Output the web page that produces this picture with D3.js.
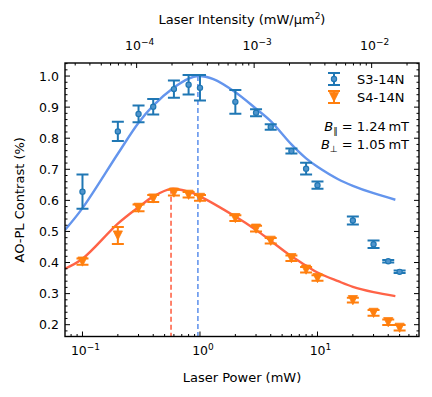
<!DOCTYPE html>
<html>
<head>
<meta charset="utf-8">
<script src="https://cdn.jsdelivr.net/npm/d3@7.9.0/dist/d3.min.js"></script>
<style>
  body { margin: 0; background: #fff; }
  svg text { font-family: "DejaVu Sans", sans-serif; fill: #000; }
</style>
</head>
<body>
<svg id="chart" width="432" height="397"></svg>
<script>
// measured data (laser power in mW)
const powerMw = [0.1, 0.2, 0.3, 0.4, 0.6, 0.8, 1, 2, 3, 4, 6, 8, 10, 20, 30, 40, 50];
const s3Contrast = [0.628, 0.822, 0.878, 0.901, 0.958, 0.972, 0.962, 0.917, 0.882, 0.836, 0.759, 0.702, 0.649, 0.535, 0.459, 0.404, 0.370];
const s3Err = [0.055, 0.031, 0.027, 0.025, 0.028, 0.031, 0.041, 0.038, 0.011, 0.009, 0.008, 0.019, 0.012, 0.013, 0.012, 0.004, 0.004];
const s4Contrast = [0.403, 0.487, 0.576, 0.606, 0.625, 0.618, 0.608, 0.543, 0.509, 0.470, 0.414, 0.377, 0.350, 0.279, 0.238, 0.208, 0.190];
const s4Err = [0.010, 0.027, 0.011, 0.011, 0.009, 0.009, 0.009, 0.009, 0.009, 0.009, 0.009, 0.009, 0.009, 0.008, 0.009, 0.009, 0.009];

// fit curves
const s3FitPower = [0.071, 0.1, 0.2, 0.3, 0.4, 0.6, 0.8, 0.96, 1.3, 2, 3, 4, 6, 8, 10, 15, 20, 30, 46];
const s3FitValue = [0.505, 0.575, 0.75, 0.85, 0.905, 0.963, 0.992, 1.0, 0.99, 0.948, 0.895, 0.855, 0.78, 0.735, 0.708, 0.668, 0.647, 0.623, 0.602];
const s4FitPower = [0.071, 0.1, 0.2, 0.3, 0.4, 0.567, 0.8, 1, 2, 3, 4, 6, 8, 10, 15, 20, 30, 46];
const s4FitValue = [0.38, 0.412, 0.525, 0.578, 0.612, 0.637, 0.628, 0.613, 0.548, 0.505, 0.47, 0.42, 0.39, 0.368, 0.34, 0.322, 0.305, 0.292];

// peak positions (dashed lines)
const peakPower = [0.96, 0.567];
const peakValue = [1.0, 0.637];

const seriesNames = ['S3-14N', 'S4-14N'];
const fieldLabels = [['\u2225', '1.24'], ['\u22A5', '1.05']];
const yTicks = [0.2, 0.3, 0.4, 0.5, 0.6, 0.7, 0.8, 0.9, 1.0];
const xTickExp = [-1, 0, 1];
const topTickExp = [-4, -3, -2];
const intensityPerMw = 3.46e-4; // mW -> mW/um^2

const dataBlue = '#1f77b4', dataOrange = '#ff7f0e';
const fitBlue = '#6495ed', fitRed = '#ff6347';

const svg = d3.select('#chart');
const L = 65, R = 419, T = 63, B = 336.5;

const x = d3.scaleLog().domain([0.0710, 73.1]).range([L, R]);
const xTop = d3.scaleLog().domain([0.0710 * intensityPerMw, 73.1 * intensityPerMw]).range([L, R]);
const y = d3.scaleLinear().domain([0.162, 1.042]).range([B, T]);

svg.append('defs').append('clipPath').attr('id', 'clip')
  .append('rect').attr('x', L).attr('y', T).attr('width', R - L).attr('height', B - T);

const plot = svg.append('g').attr('clip-path', 'url(#clip)');

// fit curves
const line = d3.line().x(d => x(d[0])).y(d => y(d[1])).curve(d3.curveCatmullRom.alpha(0.5));
plot.append('path').datum(d3.zip(s3FitPower, s3FitValue))
  .attr('d', line).attr('fill', 'none').attr('stroke', fitBlue).attr('stroke-width', 2.4);
plot.append('path').datum(d3.zip(s4FitPower, s4FitValue))
  .attr('d', line).attr('fill', 'none').attr('stroke', fitRed).attr('stroke-width', 2.4);

// dashed peak markers
[fitBlue, fitRed].forEach((c, i) => {
  plot.append('line')
    .attr('x1', x(peakPower[i])).attr('x2', x(peakPower[i]))
    .attr('y1', y(peakValue[i])).attr('y2', B)
    .attr('stroke', c).attr('stroke-width', 1.6).attr('stroke-dasharray', '5,3');
});

// error bars + markers
function errorBars(g, vals, errs, color, cap) {
  powerMw.forEach((p, i) => {
    const cx = x(p);
    const y1 = y(vals[i] + errs[i]), y2 = y(vals[i] - errs[i]);
    g.append('line').attr('x1', cx).attr('x2', cx).attr('y1', y1).attr('y2', y2)
      .attr('stroke', color).attr('stroke-width', 2);
    [y1, y2].forEach(yy => g.append('line')
      .attr('x1', cx - cap).attr('x2', cx + cap).attr('y1', yy).attr('y2', yy)
      .attr('stroke', color).attr('stroke-width', 2));
  });
}

const gS4 = plot.append('g');
errorBars(gS4, s4Contrast, s4Err, dataOrange, 6);
const tri = (cx, cy, s) => `M${cx - s},${cy - s}L${cx + s},${cy - s}L${cx},${cy + s}Z`;
powerMw.forEach((p, i) => {
  gS4.append('path').attr('d', tri(x(p), y(s4Contrast[i]), 4.6))
    .attr('fill', dataOrange).attr('stroke', dataOrange).attr('stroke-width', 0.8);
});

const gS3 = plot.append('g');
errorBars(gS3, s3Contrast, s3Err, dataBlue, 6);
powerMw.forEach((p, i) => {
  gS3.append('circle').attr('cx', x(p)).attr('cy', y(s3Contrast[i])).attr('r', 2.6)
    .attr('fill', '#4f94cc').attr('stroke', dataBlue).attr('stroke-width', 1.2);
});

// ticks
const ax = svg.append('g').attr('stroke', '#000');
function minorLogs(scale) {
  const [a, b] = scale.domain();
  const out = [];
  for (let e = Math.floor(Math.log10(a)); e <= Math.ceil(Math.log10(b)); e++) {
    for (let m = 1; m <= 9; m++) {
      const v = m * Math.pow(10, e);
      if (v >= a && v <= b) out.push({ v, major: m === 1 });
    }
  }
  return out;
}
minorLogs(x).forEach(t => {
  const px = x(t.v), len = t.major ? 5 : 2.5;
  ax.append('line').attr('x1', px).attr('x2', px).attr('y1', B).attr('y2', B - len).attr('stroke-width', 1);
});
minorLogs(xTop).forEach(t => {
  const px = xTop(t.v), len = t.major ? 5 : 2.5;
  ax.append('line').attr('x1', px).attr('x2', px).attr('y1', T).attr('y2', T + len).attr('stroke-width', 1);
});
d3.range(0.18, 1.041, 0.02).forEach(v => {
  const major = Math.abs(Math.round(v * 10) - v * 10) < 1e-6;
  const py = y(v), len = major ? 5 : 2.5;
  ax.append('line').attr('x1', L).attr('x2', L + len).attr('y1', py).attr('y2', py).attr('stroke-width', 1);
  ax.append('line').attr('x1', R).attr('x2', R - len).attr('y1', py).attr('y2', py).attr('stroke-width', 1);
});

svg.append('rect').attr('x', L).attr('y', T).attr('width', R - L).attr('height', B - T)
  .attr('fill', 'none').attr('stroke', '#000').attr('stroke-width', 1.4);

// tick labels
yTicks.forEach(v => {
  svg.append('text').attr('x', L - 6).attr('y', y(v) + 4.5).attr('text-anchor', 'end')
    .attr('font-size', 12.5).text(v.toFixed(1));
});
function powLabel(px, py, exp) {
  const t = svg.append('text').attr('x', px).attr('y', py).attr('text-anchor', 'middle').attr('font-size', 12.5);
  t.append('tspan').text('10');
  t.append('tspan').attr('dy', -5).attr('font-size', 9).text(exp < 0 ? '\u2212' + (-exp) : String(exp));
}
xTickExp.forEach(e => powLabel(x(Math.pow(10, e)) + 3, 355, e));
topTickExp.forEach(e => powLabel(xTop(Math.pow(10, e)) + 3, 50, e));

// axis titles
svg.append('text').attr('x', (L + R) / 2).attr('y', 382).attr('text-anchor', 'middle')
  .attr('font-size', 13).text('Laser Power (mW)');
const topTitle = svg.append('text').attr('x', (L + R) / 2).attr('y', 24).attr('text-anchor', 'middle').attr('font-size', 13);
topTitle.append('tspan').text('Laser Intensity (mW/\u03bcm');
topTitle.append('tspan').attr('dy', -5).attr('font-size', 9).text('2');
topTitle.append('tspan').attr('dy', 5).text(')');
svg.append('text').attr('transform', `translate(24,${(T + B) / 2}) rotate(-90)`)
  .attr('text-anchor', 'middle').attr('font-size', 13).text('AO-PL Contrast (%)');

// legend
const lg = svg.append('g');
const lx = 334, ly = [79, 97];
lg.append('line').attr('x1', lx).attr('x2', lx).attr('y1', ly[0] - 6).attr('y2', ly[0] + 6).attr('stroke', dataBlue).attr('stroke-width', 2);
[ly[0] - 6, ly[0] + 6].forEach(v => lg.append('line').attr('x1', lx - 6).attr('x2', lx + 6).attr('y1', v).attr('y2', v).attr('stroke', dataBlue).attr('stroke-width', 2));
lg.append('circle').attr('cx', lx).attr('cy', ly[0]).attr('r', 2.6).attr('fill', '#4f94cc').attr('stroke', dataBlue).attr('stroke-width', 1.2);
lg.append('line').attr('x1', lx).attr('x2', lx).attr('y1', ly[1] - 6).attr('y2', ly[1] + 6).attr('stroke', dataOrange).attr('stroke-width', 2);
[ly[1] - 6, ly[1] + 6].forEach(v => lg.append('line').attr('x1', lx - 6).attr('x2', lx + 6).attr('y1', v).attr('y2', v).attr('stroke', dataOrange).attr('stroke-width', 2));
lg.append('path').attr('d', tri(lx, ly[1], 4.6)).attr('fill', dataOrange).attr('stroke', dataOrange).attr('stroke-width', 0.8);
seriesNames.forEach((n, i) => {
  lg.append('text').attr('x', 357).attr('y', ly[i] + 5).attr('font-size', 13).text(n);
});

// field annotations
fieldLabels.forEach((f, i) => {
  const t = svg.append('text').attr('x', 409).attr('y', 131 + i * 18).attr('text-anchor', 'end').attr('font-size', 13);
  t.append('tspan').attr('font-style', 'italic').text('B');
  t.append('tspan').attr('dy', 3).attr('font-size', 9).text(f[0]);
  t.append('tspan').attr('dy', -3).text(` = ${f[1]}\u2009mT`);
});
</script>
</body>
</html>
